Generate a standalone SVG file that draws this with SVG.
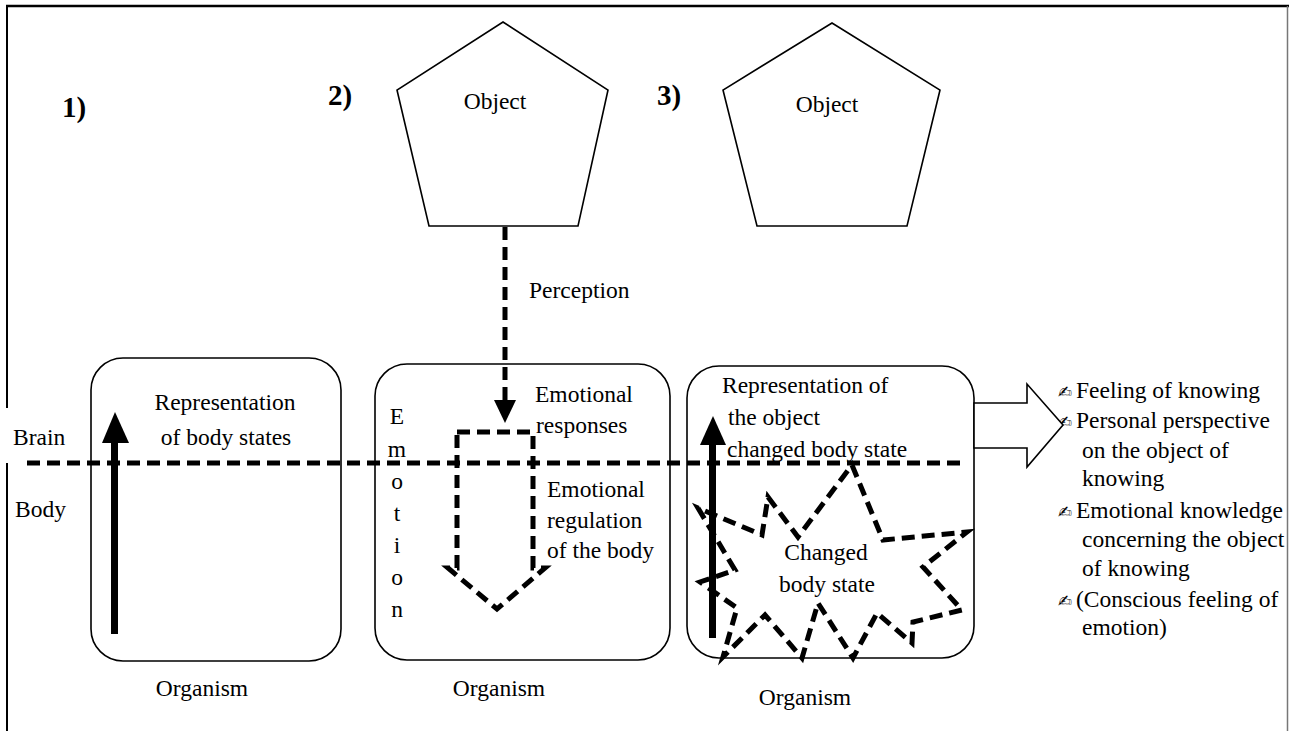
<svg xmlns="http://www.w3.org/2000/svg" width="1289" height="731" viewBox="0 0 1289 731" font-family="'Liberation Serif', 'DejaVu Serif', serif">
<defs>
<style>
text{font-family:'Liberation Serif','DejaVu Serif',serif;font-size:23.5px;fill:#000}
text.num{font-weight:bold;font-size:29px}
text.mid{text-anchor:middle}
tspan.bul{font-family:'DejaVu Sans',sans-serif;font-size:17px}
.box{fill:#fff;stroke:#000;stroke-width:1.6}
.pent{fill:#fff;stroke:#000;stroke-width:1.6}
.dash{fill:none;stroke:#000;stroke-width:5;stroke-dasharray:13 7}
.solid{fill:#000;stroke:none}
</style>
</defs>
<rect x="0" y="0" width="1289" height="731" fill="#fff"/>
<g id="frame">
<line x1="6" y1="6" x2="1289" y2="6" stroke="#000" stroke-width="2.5"/>
<line x1="7" y1="5" x2="7" y2="408" stroke="#000" stroke-width="2"/>
<line x1="7" y1="463" x2="7" y2="731" stroke="#000" stroke-width="2"/>
<line x1="1287.5" y1="6" x2="1287.5" y2="731" stroke="#777" stroke-width="1.5"/>
</g>
<g id="labels">
<text class="num" x="62" y="117">1)</text>
<text class="num" x="328" y="105">2)</text>
<text class="num" x="657" y="105">3)</text>
<text x="13" y="445">Brain</text>
<text x="15" y="517">Body</text>
</g>
<g id="object2">
<polygon class="pent" points="503,22 608,90 578,226 429,226 397,90"/>
<text class="mid" x="495" y="109">Object</text>
</g>
<g id="object3">
<polygon class="pent" points="832,23 940,90 907,226 757,226 723,90"/>
<text class="mid" x="827" y="112">Object</text>
</g>
<g id="organism1">
<rect class="box" x="91" y="358" width="250" height="303" rx="32" ry="32"/>
<text class="mid" x="225" y="410">Representation</text>
<text class="mid" x="226" y="445">of body states</text>
<text class="mid" x="202" y="696">Organism</text>
</g>
<g id="organism2">
<rect class="box" x="375" y="364" width="295" height="296" rx="32" ry="32"/>
<text x="535" y="402">Emotional</text>
<text x="536" y="433">responses</text>
<text x="547" y="497">Emotional</text>
<text x="547" y="528">regulation</text>
<text x="547" y="558">of the body</text>
<text class="mid" x="397" y="424">E</text>
<text class="mid" x="397" y="457">m</text>
<text class="mid" x="397" y="489">o</text>
<text class="mid" x="397" y="521">t</text>
<text class="mid" x="397" y="553">i</text>
<text class="mid" x="397" y="585">o</text>
<text class="mid" x="397" y="617">n</text>
<text class="mid" x="499" y="696">Organism</text>
</g>
<g id="organism3">
<rect class="box" x="687" y="366" width="287" height="292" rx="32" ry="32"/>
<text x="722" y="393">Representation of</text>
<text x="728" y="425">the object</text>
<text x="727" y="457">changed body state</text>
<text class="mid" x="805" y="705">Organism</text>
</g>
<g id="outcomes">
<text x="1058" y="398"><tspan class="bul">✍</tspan><tspan x="1076">Feeling of knowing</tspan></text>
<text x="1058" y="428"><tspan class="bul">✍</tspan><tspan x="1076">Personal perspective</tspan></text>
<text x="1082" y="458">on the object of</text>
<text x="1082" y="486">knowing</text>
<text x="1058" y="518"><tspan class="bul">✍</tspan><tspan x="1076">Emotional knowledge</tspan></text>
<text x="1082" y="547">concerning the object</text>
<text x="1082" y="576">of knowing</text>
<text x="1058" y="607"><tspan class="bul">✍</tspan><tspan x="1076">(Conscious feeling of</tspan></text>
<text x="1082" y="635">emotion)</text>
</g>
<g id="connectors">
<line class="dash" x1="27" y1="463" x2="965" y2="463"/>
<line class="dash" x1="505" y1="227" x2="505" y2="401"/>
<polygon class="solid" points="494,400 516,400 505,423"/>
<text x="529" y="298">Perception</text>
<rect class="solid" x="111" y="440" width="7" height="194"/>
<polygon class="solid" points="102,443 129,443 115,412"/>
<rect class="solid" x="709" y="442" width="7" height="196"/>
<polygon class="solid" points="700,445 726,445 713,416"/>
<path class="dash" d="M457,432 L533,432 L533,568 L545,568 L497,609 L448,568 L457,568 Z"/>
<polygon class="dash" points="852,465 883,540 967,532 923,567 962,610 913,622 912,643 877,613 853,658 818,603 802,658 765,615 723,657 737,608 700,582 735,570 698,508 762,535 768,497 798,537"/>
<text class="mid" x="826" y="560">Changed</text>
<text class="mid" x="827" y="592">body state</text>
<polygon fill="#fff" stroke="#000" stroke-width="1.6" points="974,403 1027,403 1027,384 1063,425 1027,467 1027,448 974,448"/>
</g>
</svg>
